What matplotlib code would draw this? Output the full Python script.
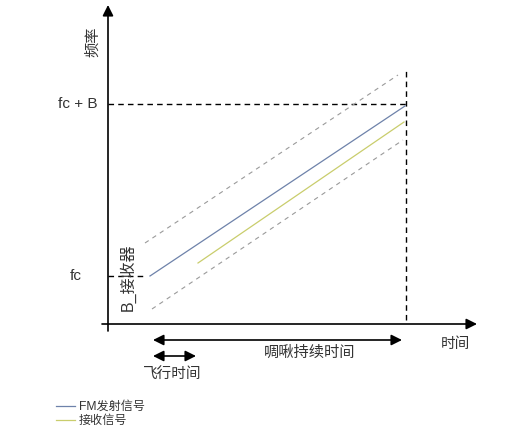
import matplotlib
matplotlib.use("Agg")
import matplotlib.pyplot as plt

plt.rcParams['font.family'] = ['Liberation Sans', 'Noto Sans CJK SC', 'DejaVu Sans']

# 频率/时间 (arbitrary units)
fc = 4.8
fc_b = 22.0
t_end = 29.8

# signal lines: (t0, t1), (f0, f1)
tx_t = [4.2, 29.7]
tx_f = [fc, 21.8]
rx_t = [9.0, 29.6]
rx_f = [6.1, 20.2]
band_hi_t = [3.7, 29.0]
band_hi_f = [8.1, 24.9]
band_lo_t = [4.4, 29.5]
band_lo_f = [1.5, 18.4]

chirp_span = [4.5, 29.4]
flight_span = [4.5, 8.8]

fig = plt.figure(figsize=(5.30, 4.37), dpi=100)
ax = fig.add_axes([0, 0, 1, 1])
ax.set_xlim(-10.8, 42.2)
ax.set_ylim(-11.3, 32.4)
ax.axis('off')

black = '#000000'
# axes with arrows
ax.annotate('', xy=(0, 31.9), xytext=(0, -0.7),
            arrowprops=dict(arrowstyle='-|>', color=black, lw=1.2,
                            mutation_scale=16, shrinkA=0, shrinkB=0))
ax.annotate('', xy=(36.9, 0), xytext=(-0.6, 0),
            arrowprops=dict(arrowstyle='-|>', color=black, lw=1.2,
                            mutation_scale=16, shrinkA=0, shrinkB=0))

# reference dashed lines
ax.plot([0, t_end], [fc_b, fc_b], color=black, lw=1.0, dashes=(4, 3))
ax.plot([t_end, t_end], [0.4, 25.4], color=black, lw=1.0, dashes=(4, 3))
ax.plot([0, 3.7], [fc, fc], color=black, lw=1.0, dashes=(4, 3))

# band edges
ax.plot(band_hi_t, band_hi_f, color='#9a9a9a', lw=0.8, dashes=(4, 4))
ax.plot(band_lo_t, band_lo_f, color='#9a9a9a', lw=0.8, dashes=(4, 4))

# signals
ax.plot(tx_t, tx_f, color='#6e82aa', lw=0.9, label='FM发射信号')
ax.plot(rx_t, rx_f, color='#c9cd6c', lw=0.9, label='接收信号')

# duration arrows
ax.annotate('', xy=(chirp_span[1], -1.6), xytext=(chirp_span[0], -1.6),
            arrowprops=dict(arrowstyle='<|-|>', color=black, lw=1.2,
                            mutation_scale=16, shrinkA=0, shrinkB=0))
ax.annotate('', xy=(flight_span[1], -3.2), xytext=(flight_span[0], -3.2),
            arrowprops=dict(arrowstyle='<|-|>', color=black, lw=1.2,
                            mutation_scale=16, shrinkA=0, shrinkB=0))

txt = '#333333'
ax.text(-1.0, fc_b, 'fc + B', ha='right', va='center', fontsize=11, color=txt)
ax.text(-2.6, fc, 'fc', ha='right', va='center', fontsize=11, color=txt)
ax.text(-1.5, 28.2, '频率', ha='center', va='center', rotation=90,
        fontsize=11, color=txt)
ax.text(2.0, 4.7, 'B_接收器', ha='center', va='center', rotation=90,
        fontsize=11.5, color=txt)
ax.text(20.2, -2.9, '啁啾持续时间', ha='center', va='center', fontsize=11, color=txt)
ax.text(6.4, -5.0, '飞行时间', ha='center', va='center', fontsize=10.5, color=txt)
ax.text(34.7, -2.0, '时间', ha='center', va='center', fontsize=10.5, color=txt)

leg = ax.legend(loc='upper left', bbox_to_anchor=(0.105, 0.082), frameon=False,
                fontsize=8.7, handlelength=1.6, handletextpad=0.3,
                labelspacing=0.15, borderaxespad=0, borderpad=0)
for t in leg.get_texts():
    t.set_color(txt)

fig.savefig('out.png', dpi=100)
